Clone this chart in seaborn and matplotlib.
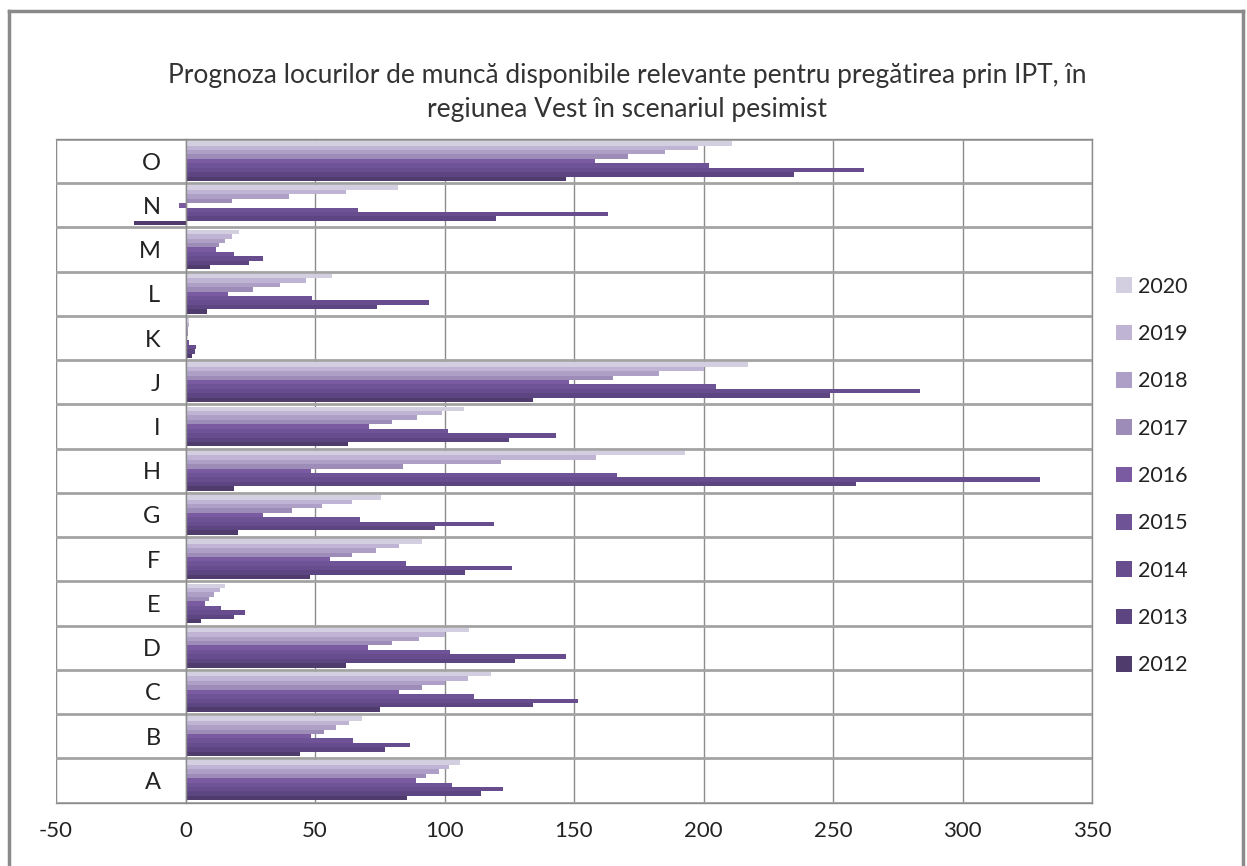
import numpy as np
import pandas as pd
import matplotlib
matplotlib.use("Agg")
import matplotlib.pyplot as plt
from matplotlib.patches import Patch
from matplotlib.lines import Line2D
import seaborn as sns

plt.rcParams['font.family'] = ['Lato', 'DejaVu Sans']

categories = ['A', 'B', 'C', 'D', 'E', 'F', 'G', 'H', 'I', 'J', 'K', 'L', 'M', 'N', 'O']
years = ['2012', '2013', '2014', '2015', '2016', '2017', '2018', '2019', '2020']

v2012 = [85.5, 44.4, 75.2, 62.0, 5.9, 48.0, 20.3, 18.6, 62.7, 134.0, 2.5, 8.4, 9.5, -20.0, 147.0]
v2013 = [114.0, 77.0, 134.0, 127.4, 18.8, 108.0, 96.5, 258.8, 125.0, 249.0, 3.5, 74.0, 24.7, 120.0, 235.0]
v2014 = [122.5, 86.8, 151.7, 147.0, 22.8, 126.0, 119.0, 330.0, 143.0, 283.5, 4.0, 94.0, 29.8, 163.0, 262.0]
v2015 = [103.0, 64.6, 111.5, 102.0, 13.7, 85.0, 67.2, 166.5, 101.4, 205.0, 1.5, 49.0, 18.6, 66.5, 202.0]
v2016 = [89.0, 48.6, 82.6, 70.3, 7.4, 55.6, 30.0, 48.6, 70.8, 148.0, 0.5, 16.3, 11.6, -2.5, 158.0]
v2017 = [93.0, 53.4, 91.3, 79.6, 9.0, 64.4, 41.0, 84.0, 79.6, 165.0, 0.8, 26.2, 13.0, 18.0, 171.0]
v2018 = [97.8, 58.0, 100.0, 90.0, 11.0, 73.7, 52.8, 122.0, 89.4, 183.0, 1.0, 36.5, 15.4, 40.0, 185.0]
v2019 = [101.8, 63.0, 109.0, 100.0, 13.3, 82.6, 64.2, 158.6, 98.9, 200.0, 1.2, 46.5, 18.0, 62.0, 198.0]
v2020 = [106.0, 68.0, 117.9, 109.4, 15.2, 91.3, 75.6, 193.0, 107.7, 217.0, 1.5, 56.4, 20.7, 82.0, 211.0]

series = [v2012, v2013, v2014, v2015, v2016, v2017, v2018, v2019, v2020]
colors = ['#4f3c6c', '#5c4580', '#684d8e', '#6e5496', '#7a5ba2',
          '#9d8cb8', '#ad9fc6', '#bfb4d3', '#d4cee1']

title = "Prognoza locurilor de muncă disponibile relevante pentru pregătirea prin IPT, în\nregiunea Vest în scenariul pesimist"

rows = []
for y, vals in zip(years, series):
    for c, v in zip(categories, vals):
        rows.append({'cat': c, 'year': y, 'value': v})
df = pd.DataFrame(rows)
palette = dict(zip(years, colors))

fig = plt.figure(figsize=(12.47, 8.66), dpi=100)
ax = fig.add_axes([56 / 1247, 1 - 802.5 / 866, (1092 - 56) / 1247, (802.5 - 139) / 866])

sns.barplot(data=df, x='value', y='cat', hue='year', order=categories[::-1],
            hue_order=years[::-1], palette=palette, orient='h', width=0.9,
            saturation=1, linewidth=0, legend=False, ax=ax, errorbar=None)

ax.set_xlim(-50, 350)
ax.set_ylim(len(categories) - 0.5, -0.5)
ax.set_xticks(np.arange(-50, 351, 50))
ax.set_xticklabels([str(v) for v in range(-50, 351, 50)])
ax.set_yticks(np.arange(-0.5, len(categories), 1.0), minor=True)
ax.set_axisbelow(True)
ax.grid(axis='x', which='major', color='#8c8c8c', lw=1)
ax.grid(axis='y', which='minor', color='#a3a3a3', lw=2)
ax.grid(axis='y', which='major', visible=False)
ax.tick_params(axis='y', which='both', length=0, pad=18, labelsize=17, labelcolor='#222222')
ax.tick_params(axis='x', which='both', length=0, pad=13, labelsize=16, labelcolor='#222222')
ax.set_xlabel('')
ax.set_ylabel('')

ax.spines['left'].set_position(('data', 0))
for s in ['left', 'right', 'top', 'bottom']:
    ax.spines[s].set_color('#8c8c8c')
    ax.spines[s].set_linewidth(1)
ax.axvline(-50, color='#8c8c8c', lw=1.5, zorder=0.5)

fig.text(627 / 1247, 1 - 92 / 866, title, ha='center', va='center',
         fontsize=19, color='#333333', linespacing=1.45)

handles = [Patch(facecolor=palette[y], edgecolor='none') for y in years[::-1]]
leg = fig.legend(handles, years[::-1], loc='upper left',
                 bbox_to_anchor=(1107 / 1247, 1 - 268 / 866), frameon=False,
                 fontsize=15.5, handlelength=0.75, handleheight=0.75,
                 handletextpad=0.3, labelspacing=1.27, borderaxespad=0)
for t in leg.get_texts():
    t.set_color('#222222')

# outer chart border
fig.add_artist(Line2D([9 / 1247, 9 / 1247], [0, 1 - 11 / 866], transform=fig.transFigure,
                      color='#8a8a8a', lw=2.5))
fig.add_artist(Line2D([9 / 1247, 1243 / 1247], [1 - 11 / 866, 1 - 11 / 866],
                      transform=fig.transFigure, color='#8a8a8a', lw=2.5))
fig.add_artist(Line2D([1243 / 1247, 1243 / 1247], [0, 1 - 11 / 866], transform=fig.transFigure,
                      color='#8a8a8a', lw=2.5))

fig.savefig('out.png', dpi=100)
